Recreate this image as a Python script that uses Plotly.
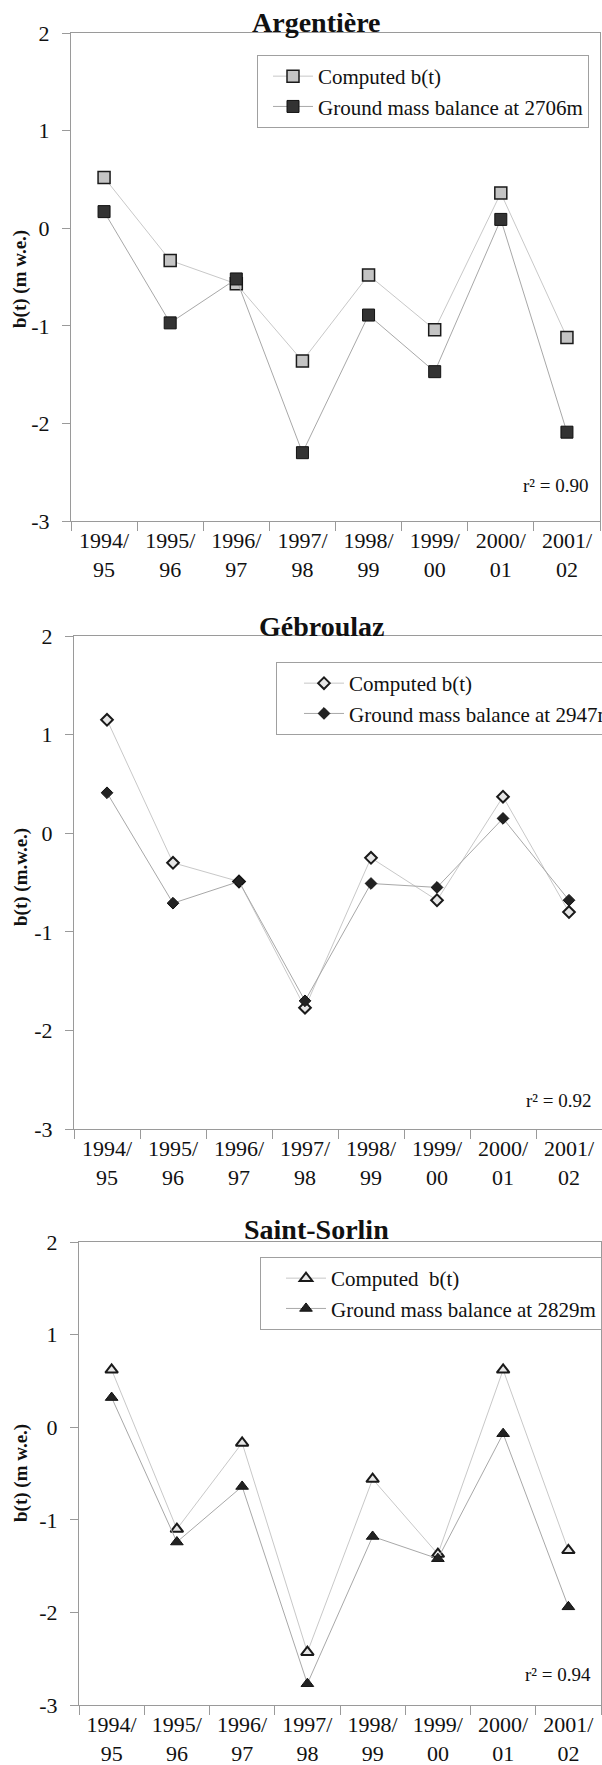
import plotly.graph_objects as go

# ---------------- data ----------------
seasons = ["1994/<br>95", "1995/<br>96", "1996/<br>97", "1997/<br>98",
           "1998/<br>99", "1999/<br>00", "2000/<br>01", "2001/<br>02"]

argentiere_computed = [0.52, -0.33, -0.57, -1.36, -0.48, -1.04, 0.36, -1.12]
argentiere_ground = [0.17, -0.97, -0.52, -2.30, -0.89, -1.47, 0.09, -2.09]

gebroulaz_computed = [1.15, -0.30, -0.49, -1.77, -0.25, -0.68, 0.37, -0.80]
gebroulaz_ground = [0.41, -0.71, -0.49, -1.70, -0.51, -0.55, 0.15, -0.68]

saintsorlin_computed = [0.62, -1.10, -0.17, -2.43, -0.56, -1.37, 0.62, -1.33]
saintsorlin_ground = [0.32, -1.24, -0.64, -2.77, -1.18, -1.42, -0.07, -1.94]

y_tickvals = [-3, -2, -1, 0, 1, 2]
y_ticktext = ["-3", "-2", "-1", "0", "1", "2"]

titles = ["Argentière", "Gébroulaz", "Saint-Sorlin"]
ytitles = ["b(t) (m w.e.)", "b(t) (m.w.e.)", "b(t) (m w.e.)"]
ground_names = ["Ground mass balance at 2706m",
                "Ground mass balance at 2947m",
                "Ground mass balance at 2829m"]
computed_names = ["Computed b(t)", "Computed b(t)", "Computed  b(t)"]
r2_labels = ["r² = 0.90", "r² = 0.92", "r² = 0.94"]

# ---------------- layout geometry ----------------
W, H = 602, 1765
FONT = "Liberation Serif, Times New Roman, serif"


def px(x):
    return x / W


def py(y):
    return 1 - y / H


# left, right, top, bottom (pixels)
panels = [(71, 600, 33, 521), (74, 602, 636, 1129), (79, 601, 1242, 1705)]
title_pos = [(316, 23), (322, 626), (317, 1229)]
ytitle_pos = [(20, 279), (21, 877), (21, 1473)]
r2_pos = [(591, 486), (594, 1100), (593, 1674)]
legend_pos = [(257, 55), (276, 662), (260, 1257)]
legend_indent = [10, 22, 20]

series = [
    (argentiere_computed, argentiere_ground, "square", "square", 12, 12,
     "#c4c4c4", "#333333", 1.5),
    (gebroulaz_computed, gebroulaz_ground, "diamond", "diamond", 9, 9,
     "#e6e6e6", "#222222", 2),
    (saintsorlin_computed, saintsorlin_ground, "triangle-up", "triangle-up", 11, 11,
     "#e6e6e6", "#222222", 2),
]

fig = go.Figure()
annotations = []

for i, (comp, grd, sym_c, sym_g, sz_c, sz_g, fill_c, fill_g, lw) in enumerate(series):
    n = "" if i == 0 else str(i + 1)
    xa = "x" + n
    ya = "y" + n
    leg = "legend" + n
    fig.add_trace(go.Scatter(
        x=seasons, y=comp, xaxis=xa, yaxis=ya, legend=leg,
        name=computed_names[i], mode="lines+markers",
        line=dict(color="#c8c8c8", width=1),
        marker=dict(symbol=sym_c, size=sz_c, color=fill_c,
                    line=dict(color="#1a1a1a", width=lw)),
    ))
    fig.add_trace(go.Scatter(
        x=seasons, y=grd, xaxis=xa, yaxis=ya, legend=leg,
        name=ground_names[i], mode="lines+markers",
        line=dict(color="#a8a8a8", width=1),
        marker=dict(symbol=sym_g, size=sz_g, color=fill_g,
                    line=dict(color="#111111", width=1)),
    ))

    l, r, t, b = panels[i]
    fig.update_layout(**{
        "xaxis" + n: dict(
            domain=[px(l), px(r)], anchor=ya, type="category",
            range=[-0.5, 7.5], tickson="boundaries", ticks="outside",
            ticklen=9, tickcolor="#9a9a9a", showline=True, linecolor="#9a9a9a",
            linewidth=1, mirror=True, showgrid=False, zeroline=False,
            tickfont=dict(family=FONT, size=22, color="#111111"),
            automargin=False,
        ),
        "yaxis" + n: dict(
            domain=[py(b), py(t)], anchor=xa, range=[-3, 2],
            tickvals=y_tickvals, ticktext=y_ticktext, ticks="outside",
            ticklen=8, tickcolor="#9a9a9a", showline=True, linecolor="#9a9a9a",
            linewidth=1, mirror=(i != 1), showgrid=False, zeroline=False,
            tickfont=dict(family=FONT, size=22, color="#111111"),
            ticklabelstandoff=8, automargin=False,
        ),
        leg: dict(
            x=px(legend_pos[i][0]), y=py(legend_pos[i][1]),
            xanchor="left", yanchor="top", bgcolor="white",
            bordercolor="#a0a0a0", borderwidth=1,
            font=dict(family=FONT, size=21, color="#111111"),
            itemwidth=40, indentation=legend_indent[i], tracegroupgap=0,
        ),
    })

    annotations.append(dict(
        text="<b>" + titles[i] + "</b>", x=px(title_pos[i][0]), y=py(title_pos[i][1]),
        xref="paper", yref="paper", xanchor="center", yanchor="middle",
        showarrow=False, font=dict(family=FONT, size=28, color="#111111"),
    ))
    annotations.append(dict(
        text="<b>" + ytitles[i] + "</b>", x=px(ytitle_pos[i][0]), y=py(ytitle_pos[i][1]),
        xref="paper", yref="paper", xanchor="center", yanchor="middle",
        textangle=-90, showarrow=False,
        font=dict(family=FONT, size=19, color="#111111"),
    ))
    annotations.append(dict(
        text=r2_labels[i], x=px(r2_pos[i][0]), y=py(r2_pos[i][1]),
        xref="paper", yref="paper", xanchor="right", yanchor="middle",
        showarrow=False, font=dict(family=FONT, size=19, color="#111111"),
    ))

fig.update_layout(
    template="none",
    width=W, height=H,
    margin=dict(l=0, r=0, t=0, b=0, autoexpand=False),
    paper_bgcolor="white", plot_bgcolor="white",
    showlegend=True,
    annotations=annotations,
)

fig.write_html(
    "out.html",
    config={"displayModeBar": False},
    post_script="document.body.style.margin='0';document.body.style.padding='0';"
                "document.body.style.overflow='hidden';"
                "document.documentElement.style.overflow='hidden';",
)
